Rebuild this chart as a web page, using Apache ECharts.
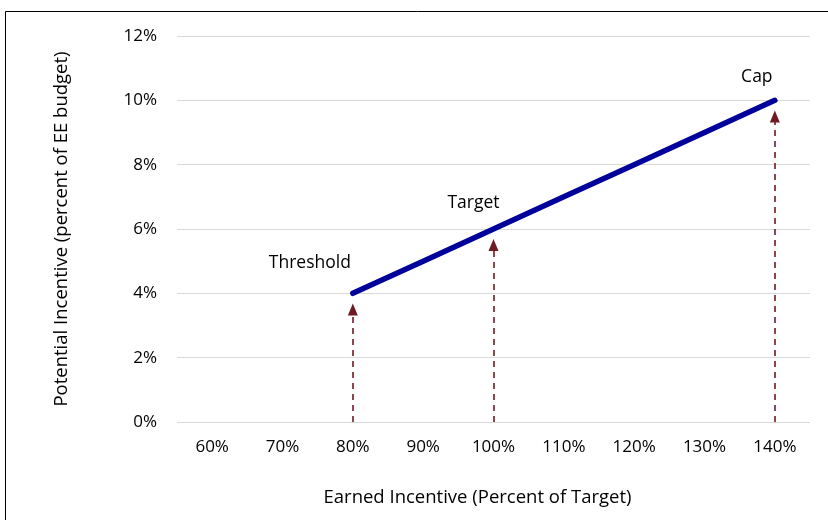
<!DOCTYPE html>
<html>
<head>
<meta charset="utf-8">
<script src="https://cdn.jsdelivr.net/npm/echarts@6/dist/echarts.min.js"></script>
<style>
  html, body { margin: 0; padding: 0; background: #fff; }
  #chart { width: 828px; height: 520px; }
</style>
</head>
<body>
<div id="chart"></div>
<script>
// earned incentive categories (x axis)
const categories = ['60%', '70%', '80%', '90%', '100%', '110%', '120%', '130%', '140%'];
// potential incentive, percent of EE budget (null = no line there)
const incentive = [null, null, 4, 5, 6, 7, 8, 9, 10];
// annotated points and their names
const markCats = ['80%', '100%', '140%'];
const markNames = ['Threshold', 'Target', 'Cap'];
const markValues = [4, 6, 10];
// where each dashed arrow stops (a little under the line)
const arrowTops = [3.5, 5.5, 9.5];

const font = '"Open Sans", "Noto Sans", sans-serif';

let chart = echarts.init(document.getElementById('chart'));

// label offsets for the three names, above-left of the point
const labelOffsets = [[-43, -16], [-20, -12], [-18, -9]];

let option = {
  animation: false,
  backgroundColor: '#fff',
  graphic: [{
    type: 'rect',
    shape: { x: 5.5, y: 11.5, width: 840, height: 540 },
    style: { fill: 'none', stroke: '#000', lineWidth: 1 },
    silent: true
  }],
  grid: { left: 177, right: 18, top: 36, bottom: 98 },
  xAxis: {
    type: 'category',
    data: categories,
    boundaryGap: true,
    axisLine: { show: false },
    axisTick: { show: false },
    axisLabel: { color: '#000', fontSize: 17, fontFamily: font, margin: 17 },
    name: 'Earned Incentive (Percent of Target)',
    nameLocation: 'middle',
    nameGap: 66,
    nameTextStyle: { color: '#000', fontSize: 18.5, fontFamily: font, padding: [0, 32, 0, 0] }
  },
  yAxis: {
    type: 'value',
    min: 0,
    max: 12,
    interval: 2,
    axisLine: { show: false },
    axisTick: { show: false },
    splitLine: { lineStyle: { color: '#d9d9d9', width: 1 } },
    axisLabel: { color: '#000', fontSize: 17, fontFamily: font, margin: 20, formatter: '{value}%' },
    name: 'Potential Incentive (percent of EE budget)',
    nameLocation: 'middle',
    nameGap: 106,
    nameTextStyle: { color: '#000', fontSize: 18.5, fontFamily: font }
  },
  series: [
    {
      name: 'incentive',
      type: 'line',
      data: incentive,
      showSymbol: false,
      symbol: 'none',
      connectNulls: false,
      lineStyle: { color: '#00009a', width: 5.5, cap: 'round' },
      z: 3
    },
    {
      name: 'names',
      type: 'scatter',
      symbolSize: 0,
      silent: true,
      itemStyle: { opacity: 1 },
      data: markCats.map((c, i) => ({
        value: [c, markValues[i]],
        label: {
          show: true,
          formatter: markNames[i],
          position: 'top',
          offset: labelOffsets[i],
          color: '#000',
          opacity: 1,
          fontSize: 17.5,
          fontFamily: font
        }
      }))
    },
    {
      name: 'arrows',
      type: 'line',
      data: [],
      markLine: {
        silent: true,
        symbol: ['none', 'triangle'],
        symbolSize: [10, 12],
        label: { show: false },
        lineStyle: { color: '#6e1a20', type: [6, 5], width: 1.6 },
        data: markCats.map((c, i) => [
          { coord: [c, 0] },
          { coord: [c, arrowTops[i]] }
        ])
      }
    }
  ]
};

chart.setOption(option);
</script>
</body>
</html>
